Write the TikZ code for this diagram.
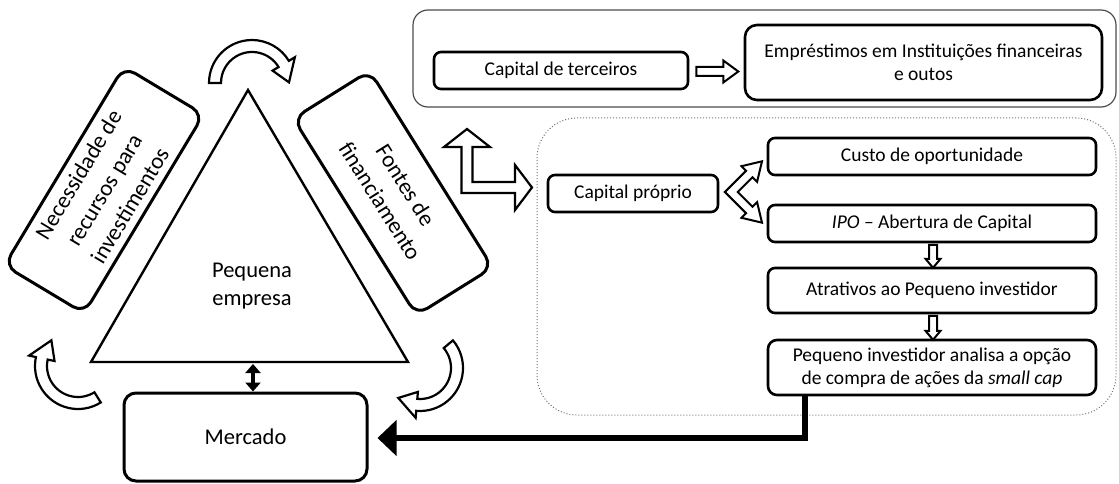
\documentclass[tikz,border=0pt]{standalone}
\usepackage{fontspec}
\setmainfont{Carlito}
\usetikzlibrary{arrows.meta,calc}
\newcommand{\blockarrow}[7]{%
  \begin{scope}[shift={#1},rotate=#2]
    \draw[#7] (0,-#4) -- ({#3-#6},-#4) -- ({#3-#6},-#5) -- (#3,0) -- ({#3-#6},#5) -- ({#3-#6},#4) -- (0,#4) -- cycle;
  \end{scope}}
\newcommand{\curvedarrow}[4]{%
  \draw[hollow] ([shift={(#2:43)}]#1) arc[start angle=#2,end angle=#3,radius=43]
    -- ([shift={(#3:50)}]#1) -- ([shift={(#4:37)}]#1) -- ([shift={(#3:24)}]#1)
    -- ([shift={(#3:31)}]#1) arc[start angle=#3,end angle=#2,radius=31] -- cycle;}
\begin{document}
\begin{tikzpicture}[x=1pt,y=1pt,
  bigtxt/.style={font=\fontsize{22.5}{27.5}\selectfont},
  rottxt/.style={font=\fontsize{23}{30}\selectfont},
  smalltxt/.style={font=\fontsize{19.5}{23}\selectfont},
  boxb/.style={draw=black, line width=3pt, rounded corners=13pt, align=center, inner sep=0pt, fill=white},
  sbox/.style={draw=black, line width=2.6pt, rounded corners=7pt, align=center, inner sep=0pt, smalltxt, fill=white},
  hollow/.style={draw=black, fill=white, line width=2.2pt, line join=miter},
  hollowsm/.style={draw=black, fill=white, line width=2pt, line join=miter},
]
\useasboundingbox (0,0) rectangle (1119,-484);

% group frames
\node[draw=black!70, line width=1.2pt, rounded corners=15pt, minimum width=703pt, minimum height=97pt, inner sep=0pt] (tergroup) at (764.5,-58.5) {};
\node[draw=black!55, dotted, line width=1pt, rounded corners=40pt, minimum width=579pt, minimum height=297pt, inner sep=0pt] (propgroup) at (826.5,-266.5) {};

% triangle
\coordinate (tA) at (248,-90);
\coordinate (tB) at (91,-362);
\coordinate (tC) at (408,-362);
\draw[line width=2.4pt, line join=miter] (tA) -- (tB) -- (tC) -- cycle;
\node[bigtxt, align=center] (pe) at (252,-286) {Pequena\\empresa};

% rotated boxes
\node[boxb, rottxt, rotate=59, minimum width=232pt, minimum height=93pt] (need) at (104,-190) {Necessidade de\\recursos para\\investimentos};
\node[boxb, rottxt, rotate=-58, minimum width=232pt, minimum height=90pt] (fontes) at (393,-193) {Fontes de\\financiamento};

% mercado
\node[boxb, bigtxt, rounded corners=12pt, minimum width=243pt, minimum height=88pt] (merc) at (245.5,-437) {Mercado};

% double arrow triangle <-> mercado
\coordinate (tbase) at (253,-364);
\draw[line width=4pt, {Triangle[length=9pt,width=15pt]}-{Triangle[length=9pt,width=15pt]}] (tbase) -- (tbase |- merc.north);

% curved cycle arrows
\coordinate (cA) at (252,-83);
\coordinate (cB) at (420,-368);
\coordinate (cC) at (78,-366);
\curvedarrow{cA}{180}{31}{1}
\curvedarrow{cB}{40}{-95}{-126}
\curvedarrow{cC}{-58}{-192}{-224}

% right side boxes
\node[sbox, minimum width=254pt, minimum height=37pt] (terc) at (561,-70.5) {Capital de terceiros};
\node[sbox, rounded corners=12pt, minimum width=357pt, minimum height=75pt] (emp) at (923.5,-62.5) {Empréstimos em Instituições financeiras\\e outos};
\node[sbox, minimum width=170pt, minimum height=37pt] (cp) at (633,-193.5) {Capital próprio};
\node[sbox, minimum width=328pt, minimum height=37pt] (custo) at (932,-156.5) {Custo de oportunidade};
\node[sbox, minimum width=328pt, minimum height=37pt] (ipo) at (932,-223.5) {\textit{IPO} – Abertura de Capital};
\node[sbox, minimum width=328pt, minimum height=45pt] (atr) at (932,-290.5) {Atrativos ao Pequeno investidor};
\node[sbox, rounded corners=9pt, minimum width=328pt, minimum height=55pt] (peq) at (932,-367.5) {Pequeno investidor analisa a opção\\de compra de ações da \textit{small cap}};

% hollow arrows
\blockarrow{($(terc.east)+(7,-1)$)}{0}{42}{4.5}{11}{15}{hollowsm}
\blockarrow{($(ipo.south)+(1,-1.5)$)}{-90}{23}{4}{7.5}{9}{hollowsm}
\blockarrow{($(atr.south)+(1,-1.5)$)}{-90}{24}{4}{7.5}{9}{hollowsm}

% L-shaped double hollow arrow
\coordinate (lc) at (467,-187.5);
\draw[hollow, shift={(lc)}] (0,58.5) -- (23,40.5) -- (5.5,40.5) -- (5.5,5.5) -- (48,5.5) -- (48,22.5) -- (65,0) -- (48,-22.5) -- (48,-5.5) -- (-5.5,-5.5) -- (-5.5,40.5) -- (-23,40.5) -- cycle;

% chevron double arrow from capital proprio
\coordinate (chv) at ($(cp.east)+(5.6,1.5)$);
\draw[hollowsm, shift={(chv)}] (0,0) -- (21.2,21.2) -- (16.6,25.8) -- (37.1,30.7) -- (32.2,10.2) -- (27.6,14.8) -- (12.8,0) -- (27.6,-14.8) -- (32.2,-10.2) -- (37.1,-30.7) -- (16.6,-25.8) -- (21.2,-21.2) -- cycle;

% thick black connector to mercado
\coordinate (bx) at (805,-400);
\draw[line width=6.5pt, line join=miter, -{Triangle[length=19pt,width=35pt]}, shorten >=9pt] (peq.south -| bx) |- ($(merc.east)+(0,-1)$);
\end{tikzpicture}
\end{document}
